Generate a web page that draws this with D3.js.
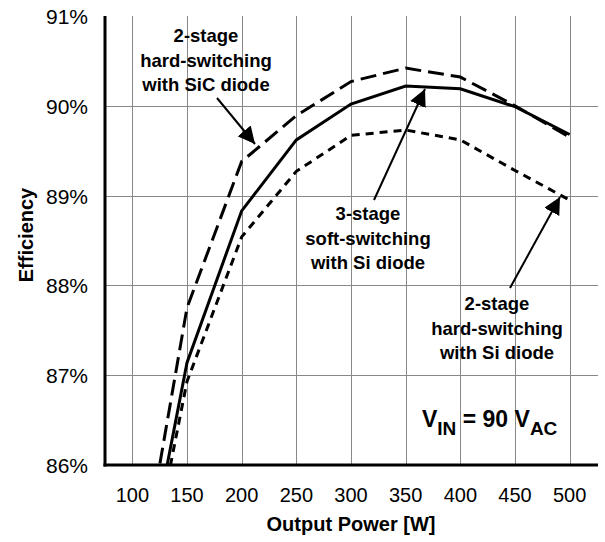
<!DOCTYPE html>
<html lang="en">
<head>
    <meta charset="UTF-8">
    <title>Efficiency vs Output Power</title>
    <script src="https://d3js.org/d3.v7.min.js"></script>
    <style>
        body { margin: 0; background: #fff; }
        text { font-family: "Liberation Sans", Arial, sans-serif; fill: #000; }
        .tick-label { font-size: 21px; }
        .axis-title { font-size: 20px; font-weight: bold; }
        .note { font-size: 18.5px; font-weight: bold; }
        .grid { stroke: #888; stroke-width: 1; }
    </style>
</head>
<body>
    <div id="chart"></div>

    <script>
        // output power [W]
        const power = [100, 150, 200, 250, 300, 350, 400, 450, 500];
        // efficiency [%] for each converter
        const softSi = [84.0, 87.14, 88.83, 89.62, 90.02, 90.22, 90.19, 89.99, 89.68];
        const hardSiC = [84.25, 87.75, 89.38, 89.89, 90.27, 90.42, 90.32, 90.0, 89.65];
        const hardSi = [83.85, 86.93, 88.54, 89.27, 89.67, 89.73, 89.62, 89.28, 88.95];
        const xTicks = [100, 150, 200, 250, 300, 350, 400, 450, 500];
        const yTicks = [86, 87, 88, 89, 90, 91];

        const width = 605, height = 542;
        const plotL = 105, plotR = 598, plotT = 16, plotB = 465;

        const svg = d3.select('#chart').append('svg')
            .attr('width', width)
            .attr('height', height);

        const x = d3.scaleLinear().domain([75, 525]).range([plotL, plotR - 1]);
        const y = d3.scaleLinear().domain([86, 91]).range([plotB, plotT]);

        // 网格线
        svg.append('g').selectAll('line')
            .data(xTicks)
            .enter().append('line')
            .attr('class', 'grid')
            .attr('x1', d => Math.round(x(d)) + 0.5).attr('x2', d => Math.round(x(d)) + 0.5)
            .attr('y1', plotT).attr('y2', plotB);

        svg.append('g').selectAll('line')
            .data(yTicks.filter(d => d > 86 && d < 91))
            .enter().append('line')
            .attr('class', 'grid')
            .attr('x1', plotL).attr('x2', plotR)
            .attr('y1', d => Math.round(y(d)) + 0.5).attr('y2', d => Math.round(y(d)) + 0.5);

        // 刻度标签
        svg.append('g').selectAll('text')
            .data(yTicks)
            .enter().append('text')
            .attr('class', 'tick-label')
            .attr('x', 88)
            .attr('y', d => y(d) + 8)
            .attr('text-anchor', 'end')
            .text(d => d + '%');

        svg.append('g').selectAll('text')
            .data(xTicks)
            .enter().append('text')
            .attr('class', 'tick-label')
            .style('font-size', '20px')
            .attr('x', d => x(d))
            .attr('y', 502)
            .attr('text-anchor', 'middle')
            .text(d => d);

        // 轴标题
        svg.append('text')
            .attr('class', 'axis-title')
            .attr('x', 351).attr('y', 531)
            .attr('text-anchor', 'middle')
            .text('Output Power [W]');

        svg.append('text')
            .attr('class', 'axis-title')
            .attr('transform', 'translate(33,235) rotate(-90)')
            .attr('text-anchor', 'middle')
            .text('Efficiency');

        // 曲线
        svg.append('clipPath').attr('id', 'plot-clip')
            .append('rect')
            .attr('x', plotL).attr('y', plotT - 5)
            .attr('width', plotR - plotL).attr('height', plotB - plotT + 5);

        const line = d3.line()
            .x((d, i) => x(power[i]))
            .y(d => y(d));

        const series = [
            { values: hardSiC, dash: '16,7' },
            { values: softSi, dash: null },
            { values: hardSi, dash: '8,6' }
        ];

        svg.append('g')
            .attr('clip-path', 'url(#plot-clip)')
            .selectAll('path')
            .data(series)
            .enter().append('path')
            .attr('d', d => line(d.values))
            .attr('fill', 'none')
            .attr('stroke', '#000')
            .attr('stroke-width', 3)
            .attr('stroke-dasharray', d => d.dash);

        // 坐标轴
        svg.append('line')
            .attr('x1', plotL).attr('x2', plotL)
            .attr('y1', plotT).attr('y2', plotB + 1.5)
            .attr('stroke', '#000').attr('stroke-width', 3);
        svg.append('line')
            .attr('x1', plotL - 1.5).attr('x2', plotR)
            .attr('y1', plotB).attr('y2', plotB)
            .attr('stroke', '#000').attr('stroke-width', 3);

        // 注释与箭头
        svg.append('defs').append('marker')
            .attr('id', 'head')
            .attr('viewBox', '0 0 10 10')
            .attr('refX', 10).attr('refY', 5)
            .attr('markerWidth', 17).attr('markerHeight', 17)
            .attr('markerUnits', 'userSpaceOnUse')
            .attr('orient', 'auto')
            .append('path')
            .attr('d', 'M0,0 L10,5 L0,10 Z')
            .attr('fill', '#000');

        const notes = [
            { lines: ['2-stage', 'hard-switching', 'with SiC diode'], cx: 206, y0: 42,
              from: [217, 98], to: [255, 144] },
            { lines: ['3-stage', 'soft-switching', 'with Si diode'], cx: 368, y0: 220,
              from: [374, 200], to: [425, 89] },
            { lines: ['2-stage', 'hard-switching', 'with Si diode'], cx: 497, y0: 310,
              from: [510, 288], to: [560, 197] }
        ];

        notes.forEach(n => {
            const t = svg.append('text')
                .attr('class', 'note')
                .attr('text-anchor', 'middle');
            n.lines.forEach((s, i) => {
                t.append('tspan').attr('x', n.cx).attr('y', n.y0 + i * 24.5).text(s);
            });
            svg.append('line')
                .attr('x1', n.from[0]).attr('y1', n.from[1])
                .attr('x2', n.to[0]).attr('y2', n.to[1])
                .attr('stroke', '#000').attr('stroke-width', 2)
                .attr('marker-end', 'url(#head)');
        });

        // V_IN = 90 V_AC
        const vin = svg.append('text')
            .attr('x', 422).attr('y', 427)
            .style('font-size', '23px').style('font-weight', 'bold');
        vin.append('tspan').text('V');
        vin.append('tspan').attr('dy', 8).style('font-size', '19px').text('IN');
        vin.append('tspan').attr('dy', -8).text(' = 90 V');
        vin.append('tspan').attr('dy', 8).style('font-size', '19px').text('AC');
    </script>
</body>
</html>
